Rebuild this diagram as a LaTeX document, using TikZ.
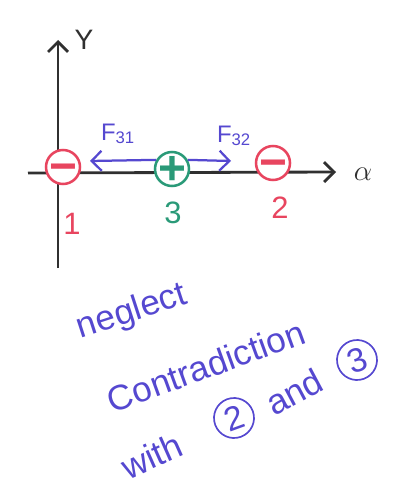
\documentclass[tikz,border=0pt]{standalone}
\usepackage{fontspec}
\setmainfont{Liberation Sans}
\usetikzlibrary{arrows.meta}
\definecolor{chgred}{HTML}{E8455F}
\definecolor{chggreen}{HTML}{2A9A78}
\definecolor{inkblue}{HTML}{5548D0}
\definecolor{axisgray}{HTML}{303030}
\tikzset{
  axis/.style={draw=axisgray, line width=2pt, -{Straight Barb[length=2.5mm, width=5mm]}},
  negc/.style={circle, draw=chgred, fill=white, line width=1.8pt, minimum size=8.5mm,
    inner sep=0pt, text height=0pt, text depth=0pt, text=chgred,
    font=\fontsize{34}{34}\selectfont\bfseries},
  posc/.style={circle, draw=chggreen, fill=white, line width=1.8pt, minimum size=8.5mm,
    inner sep=0pt, text height=0pt, text depth=0pt, text=chggreen,
    font=\fontsize{34}{34}\selectfont\bfseries},
  chlab/.style={font=\fontsize{22}{24}\selectfont, inner sep=0pt},
  axlab/.style={text=axisgray, font=\fontsize{20}{22}\selectfont, inner sep=0pt},
  force/.style={draw=inkblue, line width=1.6pt, -{Straight Barb[length=2.5mm, width=5mm]}},
  flab/.style={text=inkblue, font=\fontsize{17}{19}\selectfont, inner sep=0pt},
  note/.style={text=inkblue, font=\fontsize{25}{27}\selectfont, inner sep=0pt},
  cnum/.style={circle, draw=inkblue, line width=1.2pt, text=inkblue, inner sep=2pt,
    minimum size=10mm, font=\fontsize{24}{26}\selectfont},
}
\newcommand{\sgn}[1]{\raisebox{-0.32em}{#1}}
\begin{document}
\begin{tikzpicture}[x=0.25mm, y=-0.25mm]
    \useasboundingbox (0,0) rectangle (393,487);
    % axes
    \coordinate (xs) at (28,173);
    \coordinate (xe) at (336,172);
    \coordinate (ys) at (58,268);
    \coordinate (ye) at (58,40);
    \draw[axis] (ys) -- (ye);
    \draw[axis] (xs) -- (xe);
    \node[axlab] (ylab) at (84,40) {Y};
    \node[axlab] (xlab) at (363,174) {$\alpha$};
    % charges
    \node[negc] (q1) at (63,167) {\sgn{−}};
    \node[posc] (q3) at (172,169) {\sgn{+}};
    \node[negc] (q2) at (273,163) {\sgn{−}};
    \node[chlab, text=chgred] (l1) at (72,224) {1};
    \node[chlab, text=chggreen] (l3) at (173,213) {3};
    \node[chlab, text=chgred] (l2) at (280,208) {2};
    % forces on 3
    \coordinate (f31) at (90,161);
    \coordinate (f32) at (231,161);
    \draw[force] (q3.150) -- (f31);
    \draw[force] (q3.30) -- (f32);
    \node[flab] (t31) at (118,134) {F\textsubscript{31}};
    \node[flab] (t32) at (234,136) {F\textsubscript{32}};
    % note
    \node[note, rotate=18] (n1) at (132,312) {neglect};
    \node[note, rotate=20] (n2) at (206,366) {Contradiction};
    \node[note, rotate=24] (n3) at (152,456) {with};
    \node[cnum, rotate=20] (c2) at (234,418) {2};
    \node[note, rotate=28] (n4) at (294,392) {and};
    \node[cnum, rotate=20] (c3) at (357,360) {3};
\end{tikzpicture}
\end{document}
